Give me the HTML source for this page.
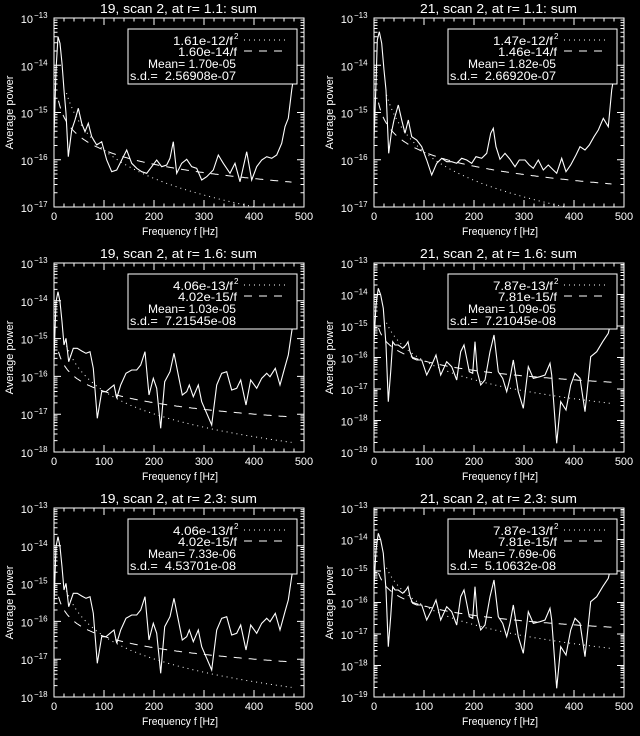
<!DOCTYPE html>
<html><head><meta charset="utf-8"><style>
html,body{margin:0;padding:0;background:#000;}
svg{display:block}
text{font-family:"Liberation Sans",sans-serif;fill:#fff}
</style></head><body>
<svg id="s" width="640" height="736" xmlns="http://www.w3.org/2000/svg"></svg>
<script>
const S=document.getElementById('s');let h='';
const L=[[162,410],[168,210],[174,110],[180,130],[186,190],[192,270],[198,340],[205,470],[215,390],[225,360],[235,325],[245,370],[255,395],[265,370],[275,410],[290,435],[305,425],[320,480],[335,515],[350,510],[365,480],[380,450],[395,490],[410,505],[425,515],[440,520],[455,500],[470,480],[485,500],[500,495],[510,475],[520,425],[530,520],[545,490],[560,478],[575,500],[590,505],[605,540],[620,530],[640,510],[655,465],[670,490],[690,520],[705,490],[720,545],[740,455],[755,540],[770,500],[785,480],[800,470],[815,475],[830,465],[845,430],[855,380],[865,355],[875,270],[885,205]];
const R=[[162,420],[168,250],[172,120],[178,95],[185,130],[192,210],[198,270],[206,460],[214,400],[222,360],[235,315],[245,360],[255,400],[265,360],[275,410],[290,420],[305,440],[320,480],[335,525],[350,490],[365,475],[380,485],[395,485],[410,490],[425,475],[440,480],[455,490],[468,470],[485,475],[500,460],[512,400],[520,385],[528,440],[540,478],[555,460],[570,478],[585,500],[598,480],[615,480],[628,495],[640,505],[655,480],[670,510],[685,495],[700,510],[710,520],[725,475],[738,515],[752,495],[768,465],[780,440],[795,450],[808,435],[822,410],[835,390],[850,355],[865,380],[875,270],[885,210]];
const LM=[[162,345],[168,170],[174,140],[180,170],[186,230],[192,300],[198,280],[206,350],[220,310],[232,310],[245,318],[258,325],[270,320],[280,370],[292,520],[305,440],[318,440],[330,430],[342,420],[350,460],[362,420],[378,385],[395,375],[410,375],[422,360],[435,320],[447,450],[460,400],[470,430],[482,550],[494,410],[510,380],[522,325],[535,390],[547,450],[560,440],[568,420],[580,455],[595,420],[605,470],[620,505],[635,540],[650,420],[665,385],[680,380],[695,435],[710,430],[722,405],[738,480],[752,405],[770,430],[785,400],[800,385],[810,395],[826,370],[840,420],[855,365],[865,330],[875,260],[885,200]];
const RM=[[162,290],[168,180],[175,130],[182,150],[190,190],[198,300],[205,470],[212,380],[218,290],[225,300],[235,300],[248,310],[258,300],[264,290],[270,320],[278,340],[290,345],[305,345],[320,390],[335,360],[348,330],[362,390],[380,350],[395,365],[410,405],[422,320],[432,300],[440,340],[448,380],[458,385],[465,290],[472,380],[482,420],[495,405],[510,320],[522,270],[535,380],[548,400],[560,440],[570,400],[580,345],[595,440],[610,490],[625,365],[640,400],[660,395],[675,390],[690,355],[695,390],[710,595],[722,470],[738,495],[752,420],[765,385],[780,400],[795,500],[812,335],[830,320],[848,290],[865,265],[875,220],[885,170]];
const P=[
{ox:0,oy:0,t:'19, scan 2, at r= 1.1: sum',lo:-17,D:L,a:1.61e-12,b:1.60e-14,l:['1.61e-12/f','1.60e-14/f','Mean= 1.70e-05','s.d.=  2.56908e-07']},
{ox:320,oy:0,t:'21, scan 2, at r= 1.1: sum',lo:-17,D:R,a:1.47e-12,b:1.46e-14,l:['1.47e-12/f','1.46e-14/f','Mean= 1.82e-05','s.d.=  2.66920e-07']},
{ox:0,oy:245,t:'19, scan 2, at r= 1.6: sum',lo:-18,D:LM,a:4.06e-13,b:4.02e-15,l:['4.06e-13/f','4.02e-15/f','Mean= 1.03e-05','s.d.=  7.21545e-08']},
{ox:320,oy:245,t:'21, scan 2, at r= 1.6: sum',lo:-19,D:RM,a:7.87e-13,b:7.81e-15,l:['7.87e-13/f','7.81e-15/f','Mean= 1.09e-05','s.d.=  7.21045e-08']},
{ox:0,oy:490,t:'19, scan 2, at r= 2.3: sum',lo:-18,D:LM,a:4.06e-13,b:4.02e-15,l:['4.06e-13/f','4.02e-15/f','Mean= 7.33e-06','s.d.=  4.53701e-08']},
{ox:320,oy:490,t:'21, scan 2, at r= 2.3: sum',lo:-19,D:RM,a:7.87e-13,b:7.81e-15,l:['7.87e-13/f','7.81e-15/f','Mean= 7.69e-06','s.d.=  5.10632e-08']}];
for(const p of P){
 const x0=p.ox+54,x1=p.ox+304,y0=p.oy+18,y1=p.oy+207;
 const nd=-13-p.lo, dp=(y1-y0)/nd;
 const X=f=>x0+f*(x1-x0)/500, Y=v=>y0+(-13-Math.log10(v))*dp;
 h+=`<text x="${p.ox+100}" y="${p.oy+13}" font-size="13" textLength="157" lengthAdjust="spacingAndGlyphs">${p.t}</text>`;
 h+=`<rect x="${x0}" y="${y0}" width="${x1-x0}" height="${y1-y0}" fill="none" stroke="#fff" stroke-width="1"/>`;
 let tk='';
 for(let f=0;f<=500;f+=20){const x=X(f),L=f%100==0?7:3.5;tk+=`M${x} ${y1}v${-L}M${x} ${y0}v${L}`;}
 for(let e=p.lo;e<-13;e++)for(let m=1;m<10;m++){const y=Y(m*Math.pow(10,e));const L=m==1?7:3.5;tk+=`M${x0} ${y}h${L}M${x1} ${y}h${-L}`;}
 h+=`<path d="${tk}" stroke="#fff" stroke-width="1" fill="none"/>`;
 for(let f=0;f<=500;f+=100)h+=`<text x="${X(f)}" y="${y1+13}" font-size="11" text-anchor="middle">${f}</text>`;
 for(let e=p.lo;e<=-13;e++){const y=Y(Math.pow(10,e));h+=`<text x="${x0-21}" y="${y+5}" font-size="11" text-anchor="end">10</text><text x="${x0-20}" y="${y}" font-size="8">−${-e}</text>`;}
 h+=`<text x="${p.ox+142}" y="${y1+28}" font-size="11" textLength="76" lengthAdjust="spacingAndGlyphs">Frequency f [Hz]</text>`;
 h+=`<text transform="translate(${p.ox+13},${(y0+y1)/2}) rotate(-90)" font-size="11" text-anchor="middle">Average power</text>`;
 let d1='',d2='';
 for(let f=25;f<=475;f+=2){const y=Y(p.a/f/f);if(y<=y1&&y>=y0)d1+=(d1?'L':'M')+X(f).toFixed(1)+' '+y.toFixed(1);}
 for(let f=9;f<=475;f+=2){const y=Y(p.b/f);if(y<=y1&&y>=y0)d2+=(d2?'L':'M')+X(f).toFixed(1)+' '+y.toFixed(1);}
 h+=`<path d="${d1}" stroke="#fff" stroke-width="1" fill="none" stroke-dasharray="1 4"/>`;
 h+=`<path d="${d2}" stroke="#fff" stroke-width="1" fill="none" stroke-dasharray="8 7"/>`;
 h+=`<polyline points="${p.D.map(q=>(p.ox+q[0]/3).toFixed(1)+','+(p.oy+q[1]/3).toFixed(1)).join(' ')}" stroke="#fff" stroke-width="1.1" fill="none"/>`;
 const lx=p.ox+128,ly=p.oy+29;
 h+=`<rect x="${lx}" y="${ly}" width="169" height="55" fill="#000" stroke="#fff" stroke-width="1"/>`;
 h+=`<text x="${p.ox+173}" y="${p.oy+45}" font-size="12" textLength="60" lengthAdjust="spacingAndGlyphs">${p.l[0]}</text><text x="${p.ox+234}" y="${p.oy+39}" font-size="8">2</text>`;
 h+=`<text x="${p.ox+178}" y="${p.oy+56}" font-size="12" textLength="59" lengthAdjust="spacingAndGlyphs">${p.l[1]}</text>`;
 h+=`<text x="${p.ox+148}" y="${p.oy+68}" font-size="12" textLength="88" lengthAdjust="spacingAndGlyphs">${p.l[2]}</text>`;
 h+=`<text x="${p.ox+130}" y="${p.oy+80}" font-size="12" xml:space="preserve" textLength="106" lengthAdjust="spacingAndGlyphs">${p.l[3]}</text>`;
 h+=`<path d="M${p.ox+244} ${p.oy+40}H${p.ox+287}" stroke="#fff" stroke-dasharray="1 4"/>`;
 h+=`<path d="M${p.ox+244} ${p.oy+51}H${p.ox+287}" stroke="#fff" stroke-dasharray="8 7"/>`;
}
S.innerHTML=h;
</script>
</body></html>
